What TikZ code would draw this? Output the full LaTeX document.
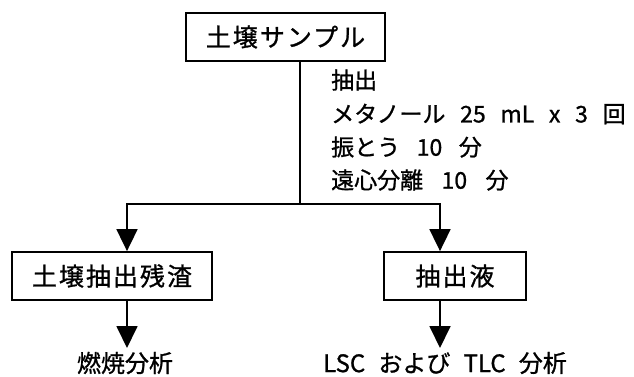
\documentclass[tikz,border=0pt]{standalone}
\usepackage{fontspec}
\setmainfont{Noto Sans CJK JP}[FakeBold=1]
\newfontfamily\jpbox{Noto Sans CJK JP}[LetterSpace=8,FakeBold=1]
\usetikzlibrary{arrows.meta}
\begin{document}
\begin{tikzpicture}[x=1pt,y=-1pt,
  box/.style={draw, line width=1.8pt, minimum height=48pt, inner sep=0pt, font=\jpbox\fontsize{25}{25}\selectfont},
  lbl/.style={inner sep=0pt, anchor=west, font=\fontsize{23}{23}\selectfont},
  res/.style={inner sep=0pt, font=\fontsize{24}{24}\selectfont},
  conn/.style={line width=1.8pt},
  arr/.style={conn, -{Triangle[length=22pt,width=21pt]}}]
\useasboundingbox (0,0) rectangle (634,376);
\node[box, minimum width=199pt] (top) at (285.5,37) {土壌サンプル};
\node[box, minimum width=200pt] (resid) at (112,276) {土壌抽出残渣};
\node[box, minimum width=142pt] (ext) at (455,276) {抽出液};
\coordinate (j) at (300,204);
\coordinate (hl) at (127,204);
\coordinate (hr) at (440,204);
\coordinate (e1) at (127,348);
\coordinate (e2) at (440,348);
\draw[conn] (top.south -| j) -- (j);
\draw[arr] (j) -| (resid.north -| hl);
\draw[arr] (j) -| (ext.north -| hr);
\node[lbl] (s1) at (331,80) {抽出};
\node[lbl] (s2) at (331,114) {メタノール\hspace{0.64em}25\hspace{0.64em}mL\hspace{0.64em}x\hspace{0.64em}3\hspace{0.64em}回};
\node[lbl] (s3) at (331,147) {振とう\hspace{0.72em}10\hspace{0.72em}分};
\node[lbl] (s4) at (331,180) {遠心分離\hspace{0.8em}10\hspace{0.8em}分};
\node[res] (r1) at (125,363) {燃焼分析};
\node[res] (r2) at (445,363) {LSC\hspace{0.55em}および\hspace{0.55em}TLC\hspace{0.55em}分析};
\draw[arr] (resid.south -| hl) -- (e1);
\draw[arr] (ext.south -| hr) -- (e2);
\end{tikzpicture}
\end{document}
